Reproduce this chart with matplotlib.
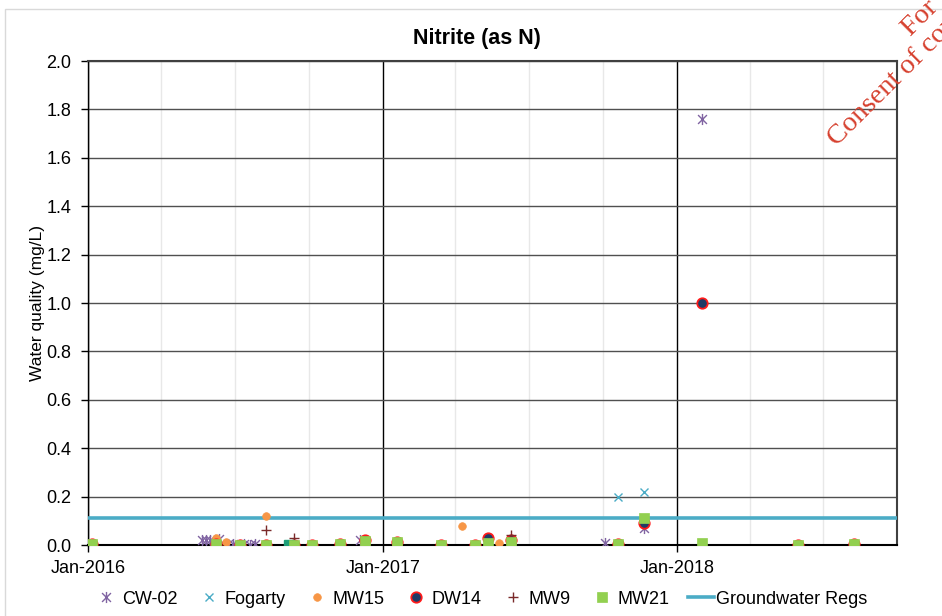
import matplotlib
matplotlib.use("Agg")
import matplotlib.pyplot as plt
import matplotlib.dates as mdates
from matplotlib.path import Path
from matplotlib.lines import Line2D
from matplotlib.patches import Rectangle
import pandas as pd

plt.rcParams["font.family"] = ["Liberation Sans", "DejaVu Sans"]

# ---- Nitrite (as N) results, mg/L ----
cw02_dates = ["2016-05-21", "2016-05-26", "2016-05-31", "2016-06-11", "2016-06-23",
              "2016-06-29", "2016-07-06", "2016-07-13", "2016-07-20", "2016-07-26",
              "2016-12-04", "2017-10-04", "2017-11-21", "2018-02-01"]
cw02_vals = [0.02, 0.02, 0.02, 0.025, 0.003, 0.003, 0.002, 0.003, 0.002, 0.003,
             0.02, 0.01, 0.07, 1.76]

fogarty_dates = ["2017-10-20", "2017-11-21"]
fogarty_vals = [0.20, 0.22]

mw15_dates = ["2016-06-08", "2016-06-20", "2016-08-09", "2017-04-09", "2017-05-25"]
mw15_vals = [0.03, 0.012, 0.12, 0.08, 0.008]

dw14_dates = ["2016-01-06", "2016-06-08", "2016-07-08", "2016-08-09", "2016-09-13",
              "2016-10-05", "2016-11-09", "2016-12-10", "2017-01-18", "2017-03-14",
              "2017-04-25", "2017-05-11", "2017-06-09", "2017-10-20", "2017-11-21",
              "2018-02-01", "2018-05-31", "2018-08-09"]
dw14_vals = [0.003, 0.003, 0.002, 0.002, 0.002, 0.002, 0.003, 0.022, 0.012, 0.002,
             0.002, 0.03, 0.022, 0.006, 0.09, 1.0, 0.002, 0.006]

mw9_dates = ["2016-08-09", "2016-09-13", "2017-06-09"]
mw9_vals = [0.06, 0.03, 0.04]

mw21_dates = dw14_dates
mw21_vals = [0.005, 0.005, 0.002, 0.0, 0.002, 0.0, 0.005, 0.016, 0.011, 0.0,
             0.002, 0.01, 0.011, 0.005, 0.11, 0.01, 0.001, 0.006]

repeat_dates = ["2016-09-06"]
repeat_vals = [0.0]

groundwater_regs = 0.11

y_ticks = [0.0, 0.2, 0.4, 0.6, 0.8, 1.0, 1.2, 1.4, 1.6, 1.8, 2.0]
x_start, x_end = "2016-01-01", "2018-10-01"


def to_dt(values):
    return pd.to_datetime(values)


# Excel-style "star": a cross with a vertical stroke through it
star = Path([(-1, -1), (1, 1), (-1, 1), (1, -1), (0, -1.25), (0, 1.25)],
            [Path.MOVETO, Path.LINETO, Path.MOVETO, Path.LINETO, Path.MOVETO, Path.LINETO])

fig = plt.figure(figsize=(9.42, 6.16), dpi=100)
fig.patches.append(Rectangle((5 / 942, -0.1), 1.2, 1 - 9 / 616 + 0.1,
                             transform=fig.transFigure, fill=False,
                             edgecolor="#D9D9D9", linewidth=1.0))
ax = fig.add_axes([88 / 942, 1 - 545 / 616, (897 - 88) / 942, (545 - 61) / 616])

styles = {
    "CW-02": dict(marker=star, ms=8, mfc="none", mec="#8064A2", mew=1.0),
    "Fogarty": dict(marker="x", ms=5.5, mfc="none", mec="#4BACC6", mew=1.0),
    "MW15": dict(marker="o", ms=5.5, mfc="#F79646", mec="#F79646", mew=0.5),
    "DW14": dict(marker="o", ms=7.5, mfc="#1F3B66", mec="#FF1A1A", mew=1.3),
    "MW9": dict(marker="+", ms=7, mfc="none", mec="#7A2A2A", mew=1.0),
    "MW21": dict(marker="s", ms=7.2, mfc="#92D050", mec="#92D050", mew=0.5),
}
series = [
    ("CW-02", cw02_dates, cw02_vals),
    ("Fogarty", fogarty_dates, fogarty_vals),
    ("MW15", mw15_dates, mw15_vals),
    ("DW14", dw14_dates, dw14_vals),
    ("MW9", mw9_dates, mw9_vals),
]

ax.axhline(groundwater_regs, color="#4BACC6", lw=2.6, zorder=3)

z = 4
for name, d, v in series:
    ax.plot(to_dt(d), v, ls="none", zorder=z, **styles[name])
    z += 1
ax.plot(to_dt(repeat_dates), repeat_vals, ls="none", marker="s", ms=7.2,
        mfc="#1E9E78", mec="#1E9E78", zorder=z)
ax.plot(to_dt(mw21_dates), mw21_vals, ls="none", zorder=z + 1, **styles["MW21"])

ax.set_xlim(pd.Timestamp(x_start), pd.Timestamp(x_end))
ax.set_ylim(0, 2.0)
ax.set_yticks(y_ticks)
ax.yaxis.set_major_formatter(matplotlib.ticker.FormatStrFormatter("%.1f"))
ax.xaxis.set_major_locator(mdates.YearLocator())
ax.xaxis.set_major_formatter(mdates.DateFormatter("%b-%Y"))
ax.xaxis.set_minor_locator(mdates.MonthLocator(bymonth=[4, 7, 10]))

ax.grid(axis="y", which="major", color="#505050", lw=1.0, zorder=0)
ax.grid(axis="x", which="major", color="black", lw=1.0, zorder=0)
ax.grid(axis="x", which="minor", color="#E8E8E8", lw=1.0, zorder=0)
ax.set_axisbelow(True)

ax.tick_params(axis="both", which="major", direction="out", length=5, width=1,
               labelsize=13, colors="black")
ax.tick_params(axis="x", which="major", pad=6)
ax.tick_params(axis="y", which="major", pad=7)
ax.tick_params(axis="x", which="minor", length=0)

for side in ("top", "right"):
    ax.spines[side].set_color("#404040")
    ax.spines[side].set_linewidth(1.5)
ax.spines["bottom"].set_color("black")
ax.spines["bottom"].set_linewidth(1.5)
ax.spines["left"].set_color("black")
ax.spines["left"].set_linewidth(1.0)

ax.set_title("Nitrite (as N)", fontsize=15.5, fontweight="bold", pad=12,
             x=(477 - 88) / 809)
ax.set_ylabel("Water quality (mg/L)", fontsize=12.5, labelpad=1)

handles = [Line2D([], [], ls="none", **styles[n]) for n in
           ["CW-02", "Fogarty", "MW15", "DW14", "MW9", "MW21"]]
handles.append(Line2D([], [], color="#4BACC6", lw=2.6))
labels = ["CW-02", "Fogarty", "MW15", "DW14", "MW9", "MW21", "Groundwater Regs"]
fig.legend(handles, labels, loc="center", bbox_to_anchor=(0.51, 1 - 599 / 616),
           ncol=7, frameon=False, fontsize=13, handlelength=1.45,
           handletextpad=0.15, columnspacing=1.0, borderaxespad=0)

# Watermark stamp running off the top-right corner
stamp = dict(rotation=45, rotation_mode="anchor", ha="left", va="baseline",
             color="#D6402E", fontsize=20.5, family=["Liberation Serif", "DejaVu Serif"])
fig.text(911 / 942, 1 - 37 / 616, "For inspection purposes only.", **stamp)
fig.text(837 / 942, 1 - 147 / 616,
         "Consent of copyright owner required for any other use.", **stamp)

fig.savefig("out.png", dpi=100)
